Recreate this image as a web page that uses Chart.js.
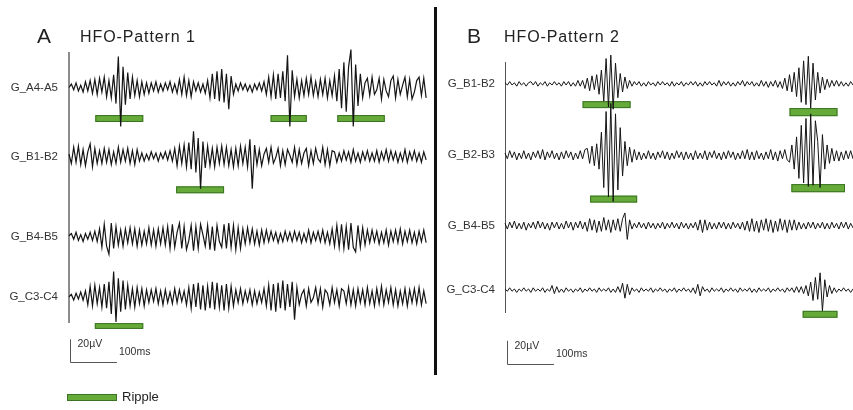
<!DOCTYPE html>
<html>
<head>
<meta charset="utf-8">
<title>HFO patterns</title>
<script src="https://cdn.jsdelivr.net/npm/chart.js@4.4.1/dist/chart.umd.min.js"></script>
<style>
  body { margin: 0; background: #fff; }
  #figure { position: relative; width: 853px; height: 410px; overflow: hidden;
            font-family: "Liberation Sans", Arial, sans-serif; color: #222; }
  #figure canvas { position: absolute; top: 0; }
  #panelA { left: 0; }
  #panelB { left: 438px; }
  .letter { position: absolute; font-size: 21px; line-height: 1; }
  .title { position: absolute; font-size: 16px; line-height: 1; letter-spacing: 0.9px; }
  .divider { position: absolute; left: 434px; top: 7px; width: 3px; height: 368px; background: #111; }
  .legend-swatch { position: absolute; left: 67px; top: 394px; width: 48px; height: 5px;
                   background: #66aa3a; border: 1px solid #3b7424; }
  .legend-label { position: absolute; left: 122px; top: 390px; font-size: 13px; line-height: 1; }
</style>
</head>
<body>
<div id="figure">
  <canvas id="panelA" width="436" height="410"></canvas>
  <canvas id="panelB" width="415" height="410"></canvas>
  <div class="divider"></div>
  <div class="letter" style="left:37px; top:25px;">A</div>
  <div class="title" style="left:80px; top:29px;">HFO-Pattern 1</div>
  <div class="letter" style="left:467px; top:25px;">B</div>
  <div class="title" style="left:504px; top:29px;">HFO-Pattern 2</div>
  <div class="legend-swatch"></div>
  <div class="legend-label">Ripple</div>
</div>

<script>
// sampling interval of every trace, in ms
const timeStepMs = 5;

// calibration bar
const scaleBarMicrovolts = 20;
const scaleBarMs = 100;

// ---- HFO-Pattern 1 (µV around each channel baseline) ----
const patternOneChannels = ["G_A4-A5", "G_B1-B2", "G_B4-B5", "G_C3-C4"];

const patternOneA4A5 = [
  0, 3, -2, 4, -3, 2, -4, 5, -3, 6,
  -5, 7, -6, 8, -4, 9, -8, 6, -9, 11,
  -14, 27, -34, 18, -15, 13, -10, 9,
  -7, 6, -8, 5, -6, 4, -5,
  4, -3, 5, -4, 3, -3, 4, -2, 5, -4, 3, -5,
  7, -6, 9, -7, 6, -8, 5,
  -3, 4, -4, 3, -5, 6,
  -9, 12, -10, 14, -12, 16, -13, 12, -19, 10, -6,
  3, -3, 4, -2, 3, -3, 2, -4, 3, -2, 4, -3, 5, -6,
  9, -8, 11, -10, 12, -9, 14, -12,
  28, -34, 15,
  -8, 7, -9, 6, -7, 8, -6, 9, -7, 5, -8, 7, -6, 8, -9, 6, -7, 10, -12,
  16, -18, 22, -21, 18, 33, -34, 20, -16, 12,
  -9, 4, 8, -7, 9, -6, -2, 8, -10, 7, -3, -8, 6, 10, -9, 7, -6, 2, 9, -8,
  7, -10, -4, 6, 9, -7, 8, -9
];

const patternOneB1B2 = [
  2, -6, 8, -5, 9, -7, 6, -8, 4, 11, -9, 7, -6,
  5, -6, 7, -5, 6, -7, 4, -6, 8, -5, 6, -4, 7, -6, 5, -7, 6, -4,
  3, -4, 2, -3, 4, -2, 3, -4, 3, -2, 4, -3, 5, -4,
  7, -8, 9, -6, 10, -9, 12, -11,
  22, -14, 16, -28, 13, -10,
  9, -8, 7, -9, 8, -6, 9, -7, 8, -8, 6, -9, 7, -8, 9, -6, 8, -9,
  15, -28, 10,
  -7, 6, -8, 2, 7, -5, 8, -6, -1, 7, -8, 5, -7, 6, 1, -5, 8, -7, 6, -6,
  3, 7, -8, 5, -6, 7, -2, -5, 8, -7, 6, -8, 5,
  4, -5, 3, -4, 5, -3, 4, -5, 6, -4, 3, -5, 4, -3, 5, -4, 3, -4, 5, -5,
  4, -3, 6, -4, 5, -3, 4, -5, 3, -4, 6, -5, 4, -3, 5, -4, 3, -5, 4, -3
];

const patternOneB4B5 = [
  1, 3, -2, 4, -3, 2, -4, 3, -2, 4, -3, 5, -4, 7,
  -9, 11, -8, -15, 12, -10, 9,
  -7, 6, -8, 7, -5, 8, -6, 7, -8, 6, -7, 5, -6, 8, -7, 6, -8, 7, -6, 8, -7, 9,
  -10, 11, -9, 4, 12, -10, 9, -11, -3, 10, -12, 9, -10, 11, 2, -8, 10, -11,
  9, -12, 10, -4, -9, 11, -10, 12, -9, 10, -11, 8, -10,
  7, -6, 8, -5, 7, -6, 5, -7, 6, -5, 6,
  -4, 5, -3, 4, -5, 3, -4, 5, -3, 4, -4, 5, -3, 4, -5, 3, -4, 6, -5, 4,
  -3, 5, -4, 6, -5, 4, -6, 7,
  -8, 10, -9, 11, -10, 9, -11, 12, -9, -13, 10, -9, 8, -7, 6,
  -5, 6, -4, 5, -6, 4, -5, 6, -7, 5, -4, 6, -5, 7, -6, 5, -4, 6, -5, 4,
  -6, 5, -4, 6, -5
];

const patternOneC3C4 = [
  0, 2, -3, 3, -2, 4, -3, 5,
  -7, 9, -8, 10, -6, 8, -9, 11, -10, 13,
  -15, 22, -22, 16, -13, 14, -11, 10,
  -8, 7, -9, 8, -6, 7, -8, 6,
  -5, 6, -4, 7, -6, 5, -7, 6, -5, 4, -6, 7, -5, 6, -4, 5, -7, 8,
  -10, 11, -9, 12, -11, 10, -12, 9, -10, 13, -11, 12, -9, 10, -12, 11, -10, 9, -8,
  6, -5, 7, -6, 5, -4, 6, -7, 5, -6, 4, -5, 7, -8,
  10, -12, 11, -13, 12, -10, 14, -12, 11, -9, 13,
  -20,
  8, -7, 2, 6, -8, 7, -5, -1, 8, -6, 7, -9, 6, 3, -7, 8, -5, 6, -8, 7,
  5, -6, 8, -7, 6, -8, 7, -5, 6, -7, 8, -6, 5, -8, 7, -6, 9, -7, 6, -5,
  8, -7, 6, -8, 5, -6, 7, -8, 6, -5, 7, -6, 8, -7, 5, -6
];

// ripple events: [channel, start ms, end ms]
const patternOneRipples = [[0, 56, 158], [0, 429, 506], [0, 571, 672], [1, 228, 330], [3, 55, 158]];

// ---- HFO-Pattern 2 ----
const patternTwoChannels = ["G_B1-B2", "G_B2-B3", "G_B4-B5", "G_C3-C4"];

const patternTwoB1B2 = [
  1, -1, 2, -1, 1, -2, 2, -1, 1, -2, 1, 2, -1, 2, -2, 1, -1, 2, -2, 1,
  -1, 2, -1, 1, -2, 2, -1, 2, -2, 1, -2, 3, -2, 3,
  -4, 5, -6, 7, -5, 8, -9,
  12, -15, 22, -20, 25, -22, 18, -12,
  9, -7, 6, -4, 3,
  -2, 2, -1, 2, -2, 1, -2, 2, -1, 1, -2, 2, -1, 2, -1, 1, -2, 2, -2, 1,
  -1, 2, -2, 1, -1, 2, -1, 2, -2, 1, -2, 2, -1, 2, -1, 1, -2, 3, -2, 2,
  -1, 2, -2, 1, -2, 2, -1, 3, -2, 2, -1, 2, -2, 1, -2, 3, -2, 2, -3, 2,
  -2, 3, -3, 2,
  -4, 5, -6, 8, -7, 10, -11,
  14, -16, 20, -18, 24, -21, 18, -14, 10,
  -8, 6, -5, 4, -3, 3, -2, 3, -2, 2, -2, 1, -2, 2, -1
];

const patternTwoB2B3 = [
  2, -3, 4, -2, 3, -4, 2, -3, 4, -3, 2, -4, 3, -2, 4, -3, 5, -4, 3, -2,
  4, -3, 2, -4, 3, -3, 4, -2, 3, -4, 2, -3, 4, -3, 5,
  6, -7, 8, -9, 10,
  -12, 20, -28, 38, -36, 45, -40, 36, -30, 24, -18,
  12, -9, 7, -6, 5, -4,
  3, -4, 2, -3, 4, -3, 2, -4, 3, -2, 4, -3, 3, -4, 2, -3, 4, -2, 3, -4,
  3, -3, 2, -4, 4, -3, 2, -3, 4, -4, 3, -2, 4, -3, 2, -4, 3, -3, 4, -2,
  3, -4, 2, -3, 4, -3, 5, -4, 3, -4, 4, -3, 2, -4, 3, -3, 5, -4, 3, -5,
  4, -3, 5, -4,
  -6, 9, -12, 16, -20, 26, -24, 32, -27, 36, -26, 30, 12, -28, 18, -12, 9,
  -7, 6, -5, 4, -5, 3, -4, 4, -3, 4, -3
];

const patternTwoB4B5 = [
  2, -3, 3, -2, 4, -3, 2, -3, 3, -4, 2, -2, 3, -3, 4, -2, 3, -3, 2, -4,
  3, -2, 3, -3, 2, -3, 4, -2, 3, -4, 3, -2, 4, -3, 3,
  -5, 6, -4, 5, -6, 4, -5, 7, -4, 5, -6, 5, -4, 6, -5,
  6, 11, -12, 5,
  -3, 2, -2, 3, -2, 2, -3, 3, -2, 2, -3, 2, -2, 3, -3, 2, -2, 3, -2, 2,
  -3, 3, -2, 2, -3, 2, -2, 3, -4,
  5, -6, 5, -4,
  3, -3, 2, -3, 3, -2, 3, -3, 2, -3, 3, -2, 2, -3, 3, -4, 4,
  -5, 6, -5, 4, -6, 5, -4, 6, -5, 5, -6, 4, -5, 6, -4, 5, -6, 5, -4, 5, -4,
  3, -3, 2, -3, 3, -2, 3, -3, 2, -2, 3, -3, 2, -3, 3, -2, 2, -3, 3, -2,
  3, -3, 2, -2
];

const patternTwoC3C4 = [
  1, -1, 2, -1, 1, -2, 1, -1, 2, -1, 1, -2, 2, -1, 1, -1, 2, -2, 1, -1,
  4, -3, 3, -2,
  1, -2, 2, -1, 1, -2, 1, -1, 2, -2, 1, -1, 2, -1, 1, -2, 2, -1, 1, -1,
  2, -2, 1, -2, 3, -2,
  6, -7, 5, -4,
  2, -1, 1, -2, 2, -1, 1, -1, 2, -2, 1, -1, 2, -1, 1, -2, 1, -1, 2, -2,
  1, -1, 2, -1, 1, -2, 2, -3,
  5, -5, 3,
  -1, 1, -2, 2, -1, 1, -1, 2, -2, 1, -1, 2, -1, 1, -2, 2, -1, 1, -1, 2,
  -2, 1, -2, 2, -1, 1, -1, 2, -2, 1, -1, 2, -1, 1, -2, 2, -1, 2, -2, 3,
  -2, 3, -3, 4, -5,
  7, -9, 11, -8, 15, -18, 9, -6,
  4, -3, 2, -2, 1, -1, 2, -1, 1, -2, 1
];

const patternTwoRipples = [[0, 165, 267], [0, 605, 707], [1, 181, 281], [1, 609, 723], [3, 633, 707]];

// ---- layout of the two panels ----
const panelALayout = {
  canvasId: "panelA",
  xMax: 764, yMin: -234, yMax: 0,
  baselines: [-30, -90, -160, -212],
  rippleDepths: [[24, 30], [24, 30], [24, 30], [26, 32], [23, 28]],
  padding: { top: 53, bottom: 88, right: 8 },
  axisWidth: 69, labelGap: 11,
  axisColor: "#8c8c8c", axisLineWidth: 2, traceWidth: 1.2,
  scaleBarAt: { t: 2, v: -249 },
};

const panelBLayout = {
  canvasId: "panelB",
  xMax: 740, yMin: -217, yMax: 0,
  baselines: [-19, -81, -142, -198],
  rippleDepths: [[15, 21], [21, 28], [35, 41], [25, 32], [18, 24]],
  padding: { top: 62, bottom: 98, right: 0 },
  axisWidth: 67, labelGap: 10,
  axisColor: "#555", axisLineWidth: 1, traceWidth: 1,
  scaleBarAt: { t: 4, v: -242 },
};

Chart.defaults.font.family = '"Liberation Sans", Arial, sans-serif';

class TracePanel {
  constructor(channels, traces, ripples, layout) {
    this.channels = channels;
    this.traces = traces;
    this.ripples = ripples;
    this.layout = layout;
  }

  buildDatasets() {
    const { baselines, traceWidth } = this.layout;
    return this.traces.map((trace, ch) => ({
      label: this.channels[ch],
      data: trace.map((uv, i) => ({ x: i * timeStepMs, y: uv + baselines[ch] })),
      borderColor: "#151515",
      borderWidth: traceWidth,
      pointRadius: 0,
      tension: 0,
      clip: false,
    }));
  }

  // green bars under the traces marking each ripple
  ripplePlugin() {
    const { baselines, rippleDepths } = this.layout;
    const ripples = this.ripples;
    return {
      id: "rippleBars",
      beforeDatasetsDraw(chart) {
        const { ctx, scales: { x, y } } = chart;
        ctx.save();
        ctx.fillStyle = "#66aa3a";
        ctx.strokeStyle = "#3b7424";
        ctx.lineWidth = 1;
        ripples.forEach(([ch, start, end], k) => {
          const [top, bottom] = rippleDepths[k];
          const x0 = x.getPixelForValue(start);
          const x1 = x.getPixelForValue(end);
          const y0 = y.getPixelForValue(baselines[ch] - top);
          const y1 = y.getPixelForValue(baselines[ch] - bottom);
          ctx.fillRect(x0, y0, x1 - x0, y1 - y0);
          ctx.strokeRect(x0 + 0.5, y0 + 0.5, x1 - x0 - 1, y1 - y0 - 1);
        });
        ctx.restore();
      },
    };
  }

  // 20µV / 100ms calibration bar below the traces
  scaleBarPlugin() {
    const at = this.layout.scaleBarAt;
    return {
      id: "scaleBar",
      afterDraw(chart) {
        const { ctx, scales: { x, y } } = chart;
        const bx = Math.round(x.getPixelForValue(at.t)) + 0.5;
        const top = y.getPixelForValue(at.v);
        const bottom = Math.round(y.getPixelForValue(at.v - scaleBarMicrovolts)) + 0.5;
        const right = x.getPixelForValue(at.t + scaleBarMs);
        ctx.save();
        ctx.strokeStyle = "#555";
        ctx.lineWidth = 1;
        ctx.beginPath();
        ctx.moveTo(bx, top);
        ctx.lineTo(bx, bottom);
        ctx.lineTo(right, bottom);
        ctx.stroke();
        ctx.fillStyle = "#333";
        ctx.font = '10.5px "Liberation Sans", Arial, sans-serif';
        ctx.textBaseline = "alphabetic";
        ctx.fillText(`${scaleBarMicrovolts}µV`, bx + 7, top + 8);
        ctx.fillText(`${scaleBarMs}ms`, right + 2, bottom - 8);
        ctx.restore();
      },
    };
  }

  render() {
    const L = this.layout;
    const ctx = document.getElementById(L.canvasId).getContext("2d");
    new Chart(ctx, {
      type: "line",
      data: { datasets: this.buildDatasets() },
      options: {
        responsive: false,
        animation: false,
        devicePixelRatio: 1,
        events: [],
        layout: { padding: { top: L.padding.top, bottom: L.padding.bottom, right: L.padding.right, left: 0 } },
        plugins: { legend: { display: false }, tooltip: { enabled: false } },
        scales: {
          x: { type: "linear", min: 0, max: L.xMax, display: false },
          y: {
            type: "linear",
            min: L.yMin,
            max: L.yMax,
            afterFit: (scale) => { scale.width = L.axisWidth; },
            afterBuildTicks: (scale) => { scale.ticks = L.baselines.map((v) => ({ value: v })); },
            ticks: {
              autoSkip: false,
              padding: L.labelGap,
              color: "#333",
              font: { size: 11.5 },
              callback: (value, index) => this.channels[index],
            },
            grid: { display: false, drawTicks: false },
            border: { display: true, color: L.axisColor, width: L.axisLineWidth },
          },
        },
      },
      plugins: [this.ripplePlugin(), this.scaleBarPlugin()],
    });
  }
}

document.addEventListener("DOMContentLoaded", () => {
  new TracePanel(
    patternOneChannels,
    [patternOneA4A5, patternOneB1B2, patternOneB4B5, patternOneC3C4],
    patternOneRipples,
    panelALayout
  ).render();

  new TracePanel(
    patternTwoChannels,
    [patternTwoB1B2, patternTwoB2B3, patternTwoB4B5, patternTwoC3C4],
    patternTwoRipples,
    panelBLayout
  ).render();
});
</script>
</body>
</html>
